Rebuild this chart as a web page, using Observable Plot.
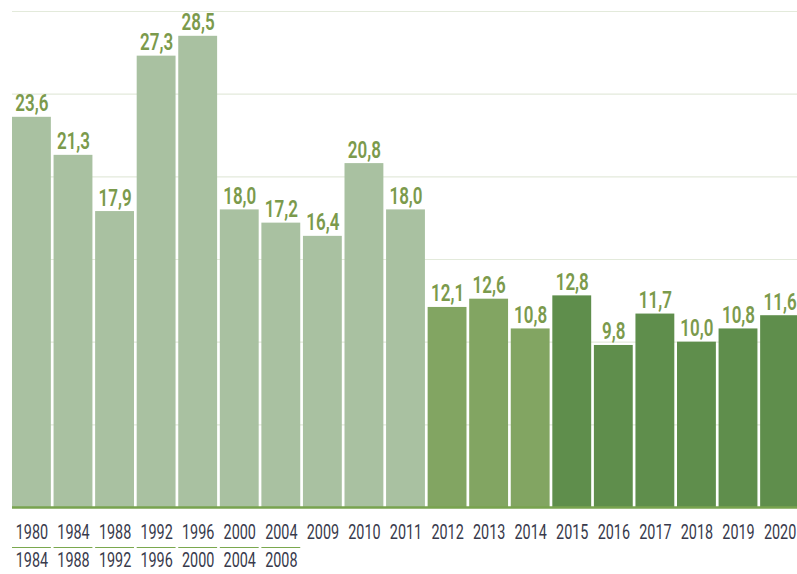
<!DOCTYPE html>
<html>
<head>
<meta charset="utf-8">
<script src="https://cdn.jsdelivr.net/npm/d3@7"></script>
<script src="https://cdn.jsdelivr.net/npm/@observablehq/plot@0.6"></script>
<style>
  html, body { margin: 0; padding: 0; background: #fff; overflow: hidden; }
  #chart svg { display: block; }
</style>
</head>
<body>
<div id="chart"></div>
<script>
const startLabels = ["1980","1984","1988","1992","1996","2000","2004","2009","2010","2011","2012","2013","2014","2015","2016","2017","2018","2019","2020"];
const endLabels   = ["1984","1988","1992","1996","2000","2004","2008","","","","","","","","","","","",""];
const values      = [23.6, 21.3, 17.9, 27.3, 28.5, 18.0, 17.2, 16.4, 20.8, 18.0, 12.1, 12.6, 10.8, 12.8, 9.8, 11.7, 10.0, 10.8, 11.6];
const periods     = ["A","A","A","A","A","A","A","A","A","A","B","B","B","C","C","C","C","C","C"];
const yTicks      = [5, 10, 15, 20, 25, 30];

const data = startLabels.map((s, i) => ({key: s + "-" + i, start: s, end: endLabels[i], value: values[i], period: periods[i]}));
const ranges = data.filter(d => d.end !== "");
const fmt = v => v.toFixed(1).replace(".", ",");

const chart = Plot.plot({
  width: 797,
  height: 574,
  marginLeft: 12,
  marginRight: 0,
  marginTop: 11,
  marginBottom: 67,
  style: {background: "#fff", overflow: "hidden"},
  x: {domain: data.map(d => d.key), range: [12, 799], round: false, paddingInner: 0.065, paddingOuter: 0, axis: null},
  y: {domain: [0, 30], axis: null},
  color: {domain: ["A","B","C"], range: ["#a9c1a1", "#82a562", "#5f8e4c"]},
  marks: [
    Plot.gridY(yTicks, {stroke: "#e3eadb", strokeOpacity: 1, strokeWidth: 1.2}),
    Plot.barY(data, {x: "key", y: "value", fill: "period"}),
    Plot.ruleY([0], {stroke: "#78a34f", strokeWidth: 2.5}),
    Plot.text(data, {x: "key", y: "value", text: d => fmt(d.value), lineAnchor: "bottom", dy: -6,
      fill: "#7b9a4c", fontSize: 23, fontWeight: 600, fontFamily: "Roboto, sans-serif"}),
    Plot.text(data, {x: "key", y: () => 0, text: "start", dy: 25.5, fill: "#383a4c", fontSize: 20,
      fontFamily: "Roboto, sans-serif"}),
    Plot.tickY(ranges, {x: "key", y: () => 0, dy: 40, stroke: "#7aa84e", strokeWidth: 1}),
    Plot.text(ranges, {x: "key", y: () => 0, text: "end", dy: 53.5, fill: "#383a4c", fontSize: 20,
      fontFamily: "Roboto, sans-serif"})
  ]
});

// condense the lettering horizontally (no condensed face installed)
const groups = chart.querySelectorAll('g[aria-label="text"]');
const squeeze = [0.74, 0.72, 0.72];
groups.forEach((g, gi) => {
  const s = squeeze[gi] ?? 1;
  g.querySelectorAll("text").forEach(t => {
    const tr = t.getAttribute("transform") || "";
    t.setAttribute("transform", (tr + ` scale(${s},1)`).trim());
  });
});
document.getElementById("chart").appendChild(chart);
</script>
</body>
</html>
